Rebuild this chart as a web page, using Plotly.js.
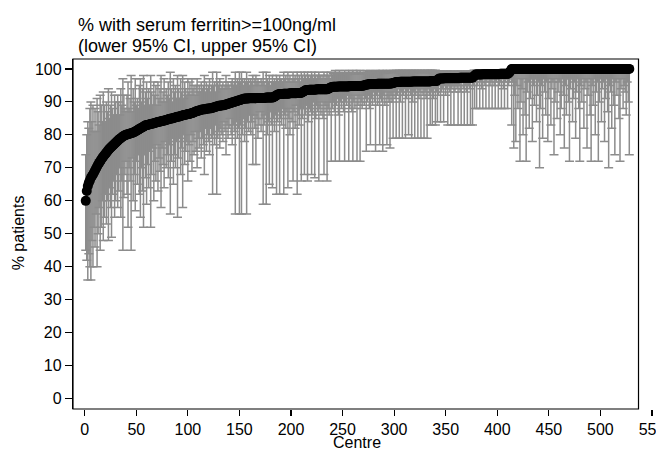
<!DOCTYPE html>
<html>
<head>
<meta charset="utf-8">
<script src="https://cdn.plot.ly/plotly-3.0.1.min.js"></script>
<style>html,body{margin:0;padding:0;background:#fff;}#chart{width:656px;height:450px;}</style>
</head>
<body>
<div id="chart"></div>
<script>
// % with serum ferritin>=100ng/ml per centre (sorted), with lower / upper 95% CI
var pct = [
60,63,64.5,65.5,66.2,67,67.5,68,68.6,69.2,
69.8,70.4,71,71.5,72,72.5,73,73.4,73.8,74.2,
74.6,75,75.4,75.8,76.1,76.4,76.7,77,77.3,77.6,
77.9,78.2,78.5,78.8,79,79.3,79.5,79.7,79.9,80,
80.1,80.2,80.3,80.4,80.5,80.6,80.7,80.8,81,81.2,
81.4,81.6,81.8,82,82.1,82.3,82.5,82.7,82.9,83,
83,83.1,83.2,83.3,83.4,83.4,83.5,83.6,83.7,83.8,
83.9,84,84,84.1,84.2,84.3,84.3,84.4,84.5,84.6,
84.7,84.8,84.9,85,85,85.1,85.2,85.3,85.4,85.5,
85.5,85.6,85.7,85.8,85.9,86,86,86.1,86.2,86.3,
86.3,86.4,86.5,86.6,86.7,86.8,87,87.1,87.2,87.3,
87.4,87.5,87.6,87.7,87.7,87.8,87.8,87.9,87.9,88,
88,88.1,88.1,88.2,88.3,88.4,88.5,88.6,88.7,88.8,
88.8,88.9,88.9,89,89,89.1,89.2,89.3,89.4,89.5,
89.6,89.7,89.8,89.9,90,90.1,90.2,90.3,90.4,90.5,
90.6,90.7,90.8,90.9,91,91,91,91,91.1,91.1,
91.1,91.1,91.1,91.1,91.1,91.1,91.2,91.2,91.2,91.2,
91.2,91.2,91.2,91.2,91.2,91.3,91.3,91.3,91.3,91.3,
91.3,91.3,91.4,91.6,91.8,92,92.2,92.3,92.4,92.4,
92.4,92.4,92.5,92.5,92.5,92.5,92.5,92.5,92.6,92.6,
92.6,92.6,92.6,92.6,92.6,92.7,92.7,92.7,92.7,92.7,
92.9,93.1,93.3,93.5,93.6,93.6,93.6,93.7,93.7,93.7,
93.7,93.7,93.7,93.7,93.8,93.8,93.8,93.8,93.8,93.8,
93.8,93.8,93.8,93.8,93.8,93.9,94.1,94.3,94.4,94.5,
94.6,94.6,94.6,94.6,94.6,94.7,94.7,94.7,94.7,94.7,
94.7,94.7,94.7,94.7,94.7,94.7,94.8,94.8,94.8,94.8,
94.8,94.8,94.8,94.8,94.8,94.8,94.8,94.8,94.9,94.9,
95,95.1,95.2,95.3,95.3,95.4,95.4,95.4,95.4,95.4,
95.4,95.4,95.4,95.5,95.5,95.5,95.5,95.5,95.5,95.5,
95.5,95.5,95.5,95.5,95.5,95.5,95.6,95.6,95.7,95.8,
95.9,96,96,96,96,96.1,96.1,96.1,96.1,96.1,
96.1,96.1,96.1,96.1,96.1,96.1,96.1,96.2,96.2,96.2,
96.2,96.2,96.2,96.2,96.2,96.2,96.2,96.2,96.2,96.2,
96.2,96.2,96.2,96.2,96.2,96.3,96.3,96.3,96.3,96.3,
96.3,96.6,96.9,97.1,97.1,97.1,97.1,97.1,97.2,97.2,
97.2,97.2,97.2,97.2,97.2,97.2,97.2,97.2,97.2,97.2,
97.2,97.2,97.2,97.3,97.3,97.3,97.3,97.3,97.3,97.3,
97.3,97.3,97.3,97.3,97.3,97.3,97.7,98,98.3,98.3,
98.3,98.3,98.3,98.3,98.3,98.4,98.4,98.4,98.4,98.4,
98.4,98.4,98.4,98.4,98.4,98.4,98.4,98.4,98.4,98.4,
98.4,98.4,98.5,98.5,98.5,98.5,98.5,98.5,98.5,98.5,
98.6,99,99.5,100,100,100,100,100,100,100,
100,100,100,100,100,100,100,100,100,100,
100,100,100,100,100,100,100,100,100,100,
100,100,100,100,100,100,100,100,100,100,
100,100,100,100,100,100,100,100,100,100,
100,100,100,100,100,100,100,100,100,100,
100,100,100,100,100,100,100,100,100,100,
100,100,100,100,100,100,100,100,100,100,
100,100,100,100,100,100,100,100,100,100,
100,100,100,100,100,100,100,100,100,100,
100,100,100,100,100,100,100,100,100,100,
100,100,100,100,100,100,100,100
];

var lowerCI = [
45,42,36,44,40,36,48,40,52,46,
56,40,50,58,45,52,60,48,55,62,
53,60,48,64,58,49,62,66,55,60,
68,58,63,70,55,66,45,61,68,72,
62,52,70,66,45,73,60,68,57,72,
65,74,62,55,70,63,52,74,67,59,
71,64,75,52,68,76,60,72,66,77,
63,73,69,58,76,71,64,78,70,74,
67,77,56,72,79,65,74,70,78,55,
73,79,68,76,58,80,71,75,78,66,
77,72,80,69,78,74,81,75,70,79,
76,81,73,79,77,68,82,75,80,78,
74,82,79,62,80,77,83,62,79,81,
76,82,80,78,84,81,74,83,79,82,
85,80,77,83,81,56,84,79,82,56,
83,56,80,85,78,82,56,84,81,86,
80,84,71,86,82,71,85,79,83,87,
81,85,59,83,86,59,80,84,65,87,
83,64,85,81,86,62,84,87,62,85,
83,88,62,86,82,87,64,85,80,88,
84,66,87,82,89,62,86,83,88,66,
85,88,68,86,89,66,84,88,87,68,
86,90,67,85,89,87,66,88,86,90,
85,68,89,87,66,88,86,90,72,88,
90,87,72,89,91,86,72,90,88,91,
87,72,90,89,92,72,88,91,87,72,
90,88,92,72,89,91,72,90,88,92,
89,91,75,90,92,88,77,91,89,93,
90,75,92,89,93,77,91,90,75,92,
89,93,77,91,90,76,92,90,79,93,
91,79,92,94,79,90,93,79,92,94,
79,91,93,80,94,92,79,90,93,79,
92,94,79,91,93,79,94,92,79,93,
91,79,94,92,83,93,83,91,94,83,
93,84,92,95,84,93,94,84,95,92,
94,83,95,93,83,94,95,83,93,95,
94,83,95,93,83,96,94,83,95,93,
83,95,94,83,96,83,95,88,96,88,
95,97,88,96,94,88,97,95,88,96,
97,88,95,96,88,97,95,88,96,97,
88,95,96,88,97,94,88,96,97,88,
95,96,97,83,96,76,92,78,95,88,
97,72,90,94,80,97,86,72,93,96,
82,91,97,78,95,89,97,84,92,96,
70,88,95,79,97,93,86,96,78,91,
97,83,94,96,74,90,97,85,93,96,
80,88,97,92,76,95,86,97,90,72,
94,97,84,91,96,79,93,97,88,72,
95,90,97,82,94,96,76,92,97,86,
72,95,89,97,80,93,96,72,90,97,
84,94,96,78,91,97,87,70,95,93,
82,97,89,74,96,92,97,85,72,94,
97,88,95,93,86,96,90,74
];

var upperCI = [
74,80,84,82,88,90,84,89,81,88,
81,91,87,83,92,89,84,93,89,84,
90,87,94,85,89,93,88,86,92,90,
86,92,90,86,94,89,97,92,88,87,
92,96,88,91,98,87,94,90,97,89,
91,88,95,97,90,94,98,89,93,96,
91,94,89,98,93,89,96,92,95,89,
96,91,94,98,90,93,97,90,94,92,
96,91,99,94,90,97,93,95,91,98,
94,91,97,93,98,91,96,94,92,97,
93,96,92,97,94,95,92,95,97,93,
95,93,96,94,95,98,93,96,94,95,
97,93,95,99,95,96,93,99,96,95,
97,94,95,96,94,95,98,95,96,95,
94,96,97,95,96,99,95,97,96,99,
96,99,97,95,97,96,99,96,97,95,
97,96,98,95,97,98,96,97,96,95,
97,96,99,96,95,99,97,96,98,95,
96,98,96,97,96,98,97,96,98,97,
97,96,99,97,98,96,99,97,98,96,
97,99,97,98,96,99,97,98,96,99,
98,97,99,98,97,99,98,97,98,99,
98,97,99,98,97,98,99,98,98,97,
98,99,97,98,99,98,98,97,99,98,
98.5,98.8,99.5,98.6,98.2,98.9,99.5,98.7,98.8,98.3,
98.8,99.5,98.7,98.8,98.3,99.5,98.9,98.4,98.8,99.5,
98.7,98.9,98.4,99.5,98.8,98.7,99.5,98.8,98.9,98.4,
98.9,98.8,99.5,99,98.7,99.1,99.5,98.9,99,98.6,
99,99.5,98.8,99.1,98.6,99.5,98.9,99,99.5,98.8,
99.1,98.6,99.5,98.9,99,99.5,98.8,99.1,99.5,98.9,
99,99.6,99,98.8,99.6,99.2,98.9,99.6,99.1,98.8,
99.6,99.2,98.9,99.6,98.8,99.1,99.6,99.2,98.9,99.6,
99,98.8,99.6,99.2,98.9,99.6,98.8,99.1,99.6,98.9,
99.2,99.6,98.8,99.1,99.6,98.9,99.6,99.2,98.8,99.6,
98.8,99.2,99.3,99.4,99.3,99,99.2,99.4,99.1,99,
99.3,99.4,99,99.2,99.4,99.1,99,99.4,99.2,99,
99.1,99.4,99,99.2,99.4,98.9,99.1,99.4,99,99.2,
99.4,99,99.1,99.4,98.9,99.4,99.5,99.6,99.4,99.6,
99.4,99.2,99.6,99.3,99.4,99.6,99.2,99.4,99.6,99.3,
99.2,99.6,99.4,99.3,99.6,99.2,99.4,99.6,99.3,99.2,
99.6,99.4,99.3,99.6,99.2,99.5,99.6,99.3,99.2,99.6,
99.6,99.7,99.9,100,100,100,100,100,100,100,
100,100,100,100,100,100,100,100,100,100,
100,100,100,100,100,100,100,100,100,100,
100,100,100,100,100,100,100,100,100,100,
100,100,100,100,100,100,100,100,100,100,
100,100,100,100,100,100,100,100,100,100,
100,100,100,100,100,100,100,100,100,100,
100,100,100,100,100,100,100,100,100,100,
100,100,100,100,100,100,100,100,100,100,
100,100,100,100,100,100,100,100,100,100,
100,100,100,100,100,100,100,100,100,100,
100,100,100,100,100,100,100,100
];

var xTicks = [0,50,100,150,200,250,300,350,400,450,500,550];
var yTicks = [0,10,20,30,40,50,60,70,80,90,100];

// centre rank (1..N), the x category of each value
var centre = pct.map(function(_, i){ return i + 1; });

var FONT = 'Liberation Sans, Arial, Helvetica, sans-serif';

var trace = {
  x: centre,
  y: pct,
  type: 'scatter',
  mode: 'markers',
  marker: {color: '#000000', size: 10},
  error_y: {
    type: 'data',
    symmetric: false,
    array: upperCI.map(function(u, i){ return u - pct[i]; }),
    arrayminus: lowerCI.map(function(l, i){ return pct[i] - l; }),
    color: '#8c8c8c',
    thickness: 1.5,
    width: 4.5
  },
  hoverinfo: 'skip',
  showlegend: false
};

var layout = {
  width: 656,
  height: 450,
  margin: {l: 73, r: 0, t: 59, b: 41, pad: 0},
  paper_bgcolor: '#ffffff',
  plot_bgcolor: '#ffffff',
  font: {family: FONT, size: 16, color: '#000'},
  showlegend: false,
  xaxis: {
    range: [-11.35, 553.9],
    tickvals: xTicks,
    ticktext: xTicks.map(String),
    ticks: 'outside',
    ticklen: 6,
    tickwidth: 1.2,
    tickcolor: '#000',
    showgrid: false,
    zeroline: false,
    showline: false,
    ticklabeloverflow: 'allow',
    tickfont: {family: FONT, size: 16, color: '#000'}
  },
  yaxis: {
    range: [-3.1, 103],
    tickvals: yTicks,
    ticktext: yTicks.map(String),
    ticks: 'outside',
    ticklen: 7,
    tickwidth: 1.2,
    tickcolor: '#000',
    showgrid: false,
    zeroline: false,
    showline: true,
    linecolor: '#000',
    linewidth: 1.2,
    tickfont: {family: FONT, size: 16, color: '#000'}
  },
  shapes: [{
    type: 'rect', xref: 'paper', yref: 'paper',
    x0: 0, x1: 0.970, y0: 0, y1: 1,
    line: {color: '#000', width: 1.2},
    fillcolor: 'rgba(0,0,0,0)',
    layer: 'above'
  }],
  annotations: [
    {text: '% with serum ferritin>=100ng/ml', xref: 'paper', yref: 'paper',
     x: 0.006, y: 1.097, xanchor: 'left', yanchor: 'middle', showarrow: false,
     font: {family: FONT, size: 18, color: '#000'}},
    {text: '(lower 95% CI, upper 95% CI)', xref: 'paper', yref: 'paper',
     x: 0.006, y: 1.038, xanchor: 'left', yanchor: 'middle', showarrow: false,
     font: {family: FONT, size: 18, color: '#000'}},
    {text: '% patients', xref: 'paper', yref: 'paper',
     x: -0.092, y: 0.503, xanchor: 'center', yanchor: 'middle', textangle: -90,
     showarrow: false, font: {family: FONT, size: 16, color: '#000'}},
    {text: 'Centre', xref: 'paper', yref: 'paper',
     x: 0.487, y: -0.097, xanchor: 'center', yanchor: 'middle',
     showarrow: false, font: {family: FONT, size: 16, color: '#000'}}
  ]
};

Plotly.newPlot('chart', [trace], layout, {staticPlot: true, displayModeBar: false});
</script>
</body>
</html>
